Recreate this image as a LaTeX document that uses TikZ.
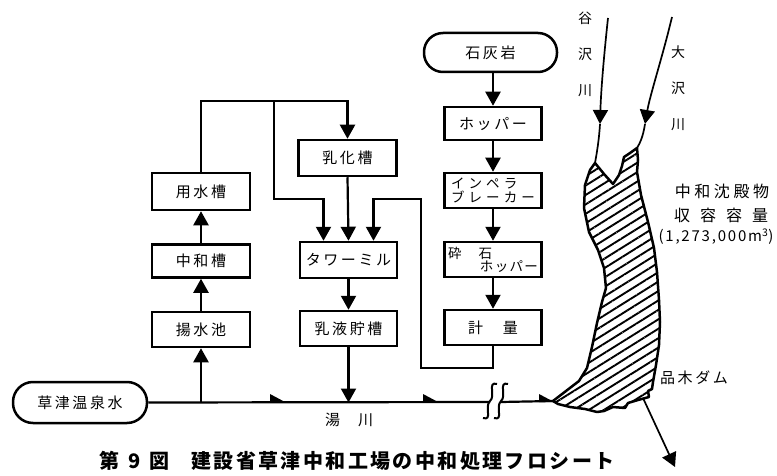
\documentclass[tikz,border=0pt]{standalone}
\usepackage{fontspec}
\setmainfont{Noto Sans CJK JP}
\usetikzlibrary{arrows.meta,patterns.meta}
\newcommand\boxfont{\fontsize{15}{17}\selectfont\addfontfeatures{LetterSpace=17}}
\newcommand\smallboxfont{\fontsize{13.5}{14}\selectfont\addfontfeatures{LetterSpace=30}}
\newcommand\lblfont{\fontsize{15}{17}\selectfont}
\newcommand\rivfont{\fontsize{14}{36}\selectfont}
\newcommand\titlefont{\fontsize{20}{22}\selectfont\bfseries\addfontfeatures{LetterSpace=12}}
\tikzset{
  box/.style={draw, line width=2.5pt, minimum width=97pt, minimum height=35pt, inner sep=0pt, font=\boxfont},
  rbox/.style={box, rounded corners=19pt},
  conn/.style={line width=2.2pt},
  arr/.style={conn, -{Triangle[width=15pt,length=14pt]}},
  river/.style={line width=1.7pt},
  riverarr/.style={river, -{Triangle[width=15pt,length=14pt]}},
  flowmark/.style={fill=black},
  dam/.style={line width=2.5pt, pattern={Lines[angle=32,distance=8pt,line width=1.9pt]}},
  lbl/.style={font=\lblfont, inner sep=0pt}
}
\begin{document}
\begin{tikzpicture}[x=1pt,y=-1pt]
\useasboundingbox (0,0) rectangle (777,476);

% boxes
\node[box, minimum width=98pt, minimum height=37pt] (yousui) at (201,191.5) {用水槽};
\node[box, minimum width=98pt, minimum height=36pt] (nyuka) at (347.5,158) {乳化槽};
\node[box, minimum width=98pt, minimum height=33pt] (chuwa) at (201,261) {中和槽};
\node[box, minimum width=98pt, minimum height=35pt] (yosui) at (201,329.5) {揚水池};
\node[box, minimum width=97pt, minimum height=36pt] (tower) at (348.5,260) {タワーミル};
\node[box, minimum width=97pt, minimum height=35pt] (nyueki) at (348.5,328.5) {乳液貯槽};
\node[rbox, minimum width=134pt, minimum height=41pt, rounded corners=20pt] (onsen) at (80,402.5) {草津温泉水};
\node[rbox, minimum width=133pt, minimum height=39pt] (sekkai) at (490.5,52.5) {石灰岩};
\node[box, minimum height=33pt] (hopper) at (493,123.5) {ホッパー};
\node[box, font=\smallboxfont, align=left] (imp) at (493,190.5) {インペラ\\ブレーカー};
\node[box, font=\smallboxfont, align=center] (saiseki) at (493,259.5)
  {\makebox[90pt][l]{\addfontfeatures{LetterSpace=0}砕\hspace{17pt}石}\\[-1pt]\makebox[90pt][r]{\addfontfeatures{LetterSpace=10}ホッパー}};
\node[box] (keiryo) at (493,327.5) {計\hspace{20pt}量};

% coordinates
\coordinate (busL) at (274,101);
\coordinate (busM) at (274,199);
\coordinate (fbR) at (421,368);
\coordinate (fbT) at (421,199);
\coordinate (brkL) at (490,402);
\coordinate (brkR) at (501,402);
\coordinate (damtip) at (553,401);
\coordinate (tanitop) at (608,18);
\coordinate (tanitip) at (600,124);
\coordinate (damTL) at (595,163);
\coordinate (ootop) at (672,17);
\coordinate (ootip) at (645,124);
\coordinate (damTR) at (637,148);
\coordinate (outS) at (643,398);
\coordinate (outE) at (675,467);

% connectors left part
\draw[arr] (yousui.north) |- (busL) -| (nyuka.north);
\draw[arr] (busL) -- (busM) -| ([xshift=-25pt]tower.north);
\draw[arr] (nyuka.south) -- (tower.north);
\draw[arr] (keiryo.south) |- (fbR) -- (fbT) -| ([xshift=25pt]tower.north);
\draw[arr] (tower.south) -- (nyueki.north);
\draw[arr] (nyueki.south) -- (nyueki.south |- onsen.east);
\draw[arr] (chuwa.north) -- (yousui.south);
\draw[arr] (yosui.north) -- (chuwa.south);
\draw[arr] (onsen.east -| yosui.south) -- (yosui.south);

% lime column
\draw[arr] (sekkai.south -| hopper.north) -- (hopper.north);
\draw[arr] (hopper.south) -- (imp.north);
\draw[arr] (imp.south) -- (saiseki.north);
\draw[arr] (saiseki.south) -- (keiryo.north);

% Yukawa river line
\draw[conn] (onsen.east) -- (brkL);
\draw[conn] (brkR) -- (damtip);
\foreach \mx in {270,423,539}
  \fill[flowmark] (\mx,402) -- (\mx,394) -- (\mx+15,402) -- cycle;
% break symbol
\foreach \bx in {490,501}
  \draw[line width=2pt] (\bx+7,384) .. controls (\bx-3,381) and (\bx+6,396) .. (\bx,401)
     .. controls (\bx-6,407) and (\bx+3,421) .. (\bx-7,418);

% dam
\draw[dam, line join=round] (damTL) -- (604,174) -- (613,184) -- (619,175) -- (622,166) -- (624,157) -- (630,153) -- (damTR)
  -- (638,160) -- (637,172) -- (641,195) -- (648,222) -- (654,248) -- (657,272) -- (659,300) -- (660,322)
  -- (659,345) -- (656,365) -- (653,382) -- (652,389) -- (648,391) -- (649,397) -- (638,400) -- (628,403)
  -- (625,408) -- (613,407) -- (604,411) -- (597,412) -- (585,409) -- (570,407) -- (558,404) -- (damtip)
  -- (566,391) -- (579,381) -- (587,368) -- (592,347) -- (597,323) -- (602,302) -- (606,288) -- (604,268)
  -- (598,250) -- (589,232) -- (584,208) -- (585,185) -- (590,170) -- cycle;

% rivers
\draw[riverarr] (tanitop) .. controls (604,55) and (601,90) .. (tanitip);
\draw[river] (tanitip) .. controls (599,140) and (597,152) .. (damTL);
\draw[riverarr] (ootop) .. controls (663,55) and (650,95) .. (ootip);
\draw[river] (ootip) .. controls (643,137) and (640,143) .. (damTR);
\draw[arr, line width=1.7pt] (outS) -- (outE);

% labels
\node[lbl] (yugawa) at (349,420) {湯\hspace{18pt}川};
\node[font=\rivfont, align=center, inner sep=0pt] (tani) at (585,54) {谷\\沢\\川};
\node[font=\rivfont, align=center, inner sep=0pt] (oosawa) at (678,88) {大\\沢\\川};
\node[lbl, font=\fontsize{16}{18}\selectfont\addfontfeatures{LetterSpace=22}] (chinden) at (722,191) {中和沈殿物};
\node[lbl, font=\fontsize{16}{18}\selectfont] (shuyo) at (721,215) {収\hspace{10pt}容\hspace{10pt}容\hspace{10pt}量};
\node[lbl, font=\fontsize{15}{18}\selectfont\addfontfeatures{LetterSpace=12}] (vol) at (716,237) {(1,273,000m\textsuperscript{3})};
\node[lbl, font=\fontsize{15}{17}\selectfont\addfontfeatures{LetterSpace=17}] (shinaki) at (694,378) {品木ダム};
\node[anchor=west, font=\titlefont, inner sep=0pt] (title) at (99,461) {第\hspace{9pt}9\hspace{9pt}図\hspace{22pt}建設省草津中和工場の中和処理フロシート};
\end{tikzpicture}
\end{document}
